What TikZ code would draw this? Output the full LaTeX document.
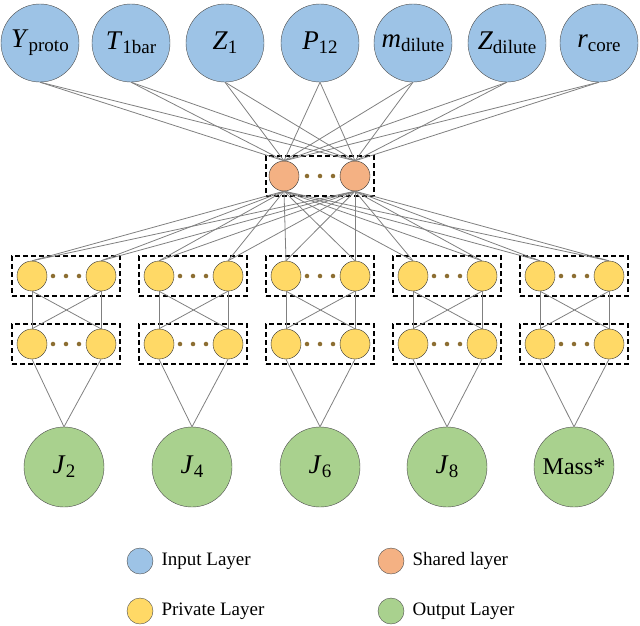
\documentclass[tikz,border=0pt]{standalone}
\usepackage{fontspec}
\setmainfont{Liberation Serif}
\begin{document}
\begin{tikzpicture}[x=1pt,y=-1pt,
  inp/.style={circle,draw=black!70,fill={rgb,255:red,157;green,195;blue,230},minimum size=78pt,inner sep=0pt,font=\fontsize{27}{28}\selectfont},
  outp/.style={circle,draw=black!70,fill={rgb,255:red,169;green,209;blue,142},minimum size=80pt,inner sep=0pt,font=\fontsize{27}{28}\selectfont},
  sh/.style={circle,draw=black!80,fill={rgb,255:red,244;green,177;blue,131},minimum size=30pt,inner sep=0pt},
  pr/.style={circle,draw=black!80,fill={rgb,255:red,255;green,217;blue,102},minimum size=30pt,inner sep=0pt},
  lg/.style={circle,draw=black!70,minimum size=26pt,inner sep=0pt},
  box/.style={draw,dashed,line width=1.3pt,dash pattern=on 5pt off 3pt},
  con/.style={draw=black!50,line width=0.8pt},
  dots/.style={fill={rgb,255:red,140;green,110;blue,50},circle,inner sep=1.6pt},
  lt/.style={font=\fontsize{19}{21}\selectfont,anchor=west}]
\useasboundingbox (0,0) rectangle (640,625);
\newcommand{\sbs}[1]{\raisebox{-0.3ex}{\fontsize{19}{20}\selectfont #1}}
% inputs
\node[inp] (i1) at (40,43) {\textit{Y}\sbs{proto}};
\node[inp] (i2) at (131,43) {\textit{T}\sbs{1bar}};
\node[inp] (i3) at (225,43) {\textit{Z}\sbs{1}};
\node[inp] (i4) at (320,43) {\textit{P}\sbs{12}};
\node[inp] (i5) at (413,43) {\textit{m}\sbs{dilute}};
\node[inp] (i6) at (507,43) {\textit{Z}\sbs{dilute}};
\node[inp] (i7) at (599,43) {\textit{r}\sbs{core}};
% shared
\node[sh] (s1) at (284,176) {};
\node[sh] (s2) at (355,176) {};
\node[box,draw,minimum width=108pt,minimum height=40pt] (sb) at (320,176) {};
\foreach \d in {307,320,333}{\node[dots] at (\d,176) {};}
\foreach \i in {1,...,7}{\foreach \s in {s1,s2}{\draw[con] (i\i.south) -- (\s.north);}}
% private
\foreach \b/\cx in {1/66,2/193,3/320,4/447,5/574}{
  \node[pr] (a\b) at (\cx-34,276) {};
  \node[pr] (b\b) at (\cx+35,276) {};
  \node[pr] (c\b) at (\cx-34,344) {};
  \node[pr] (d\b) at (\cx+35,344) {};
  \node[box,minimum width=108pt,minimum height=40pt] (pb\b) at (\cx,276) {};
  \node[box,minimum width=108pt,minimum height=40pt] (qb\b) at (\cx,344) {};
  \foreach \d in {-13,0,13}{\node[dots] at (\cx+\d,276) {};\node[dots] at (\cx+\d,344) {};}
  \draw[con] (a\b.south) -- (c\b.north); \draw[con] (b\b.south) -- (d\b.north);
  \draw[con] (a\b.south) -- (d\b.north); \draw[con] (b\b.south) -- (c\b.north);
  \foreach \s in {s1,s2}{\draw[con] (\s.south) -- (a\b.north); \draw[con] (\s.south) -- (b\b.north);}
}
% outputs
\node[outp] (o1) at (64,467) {\textit{J}\sbs{2}};
\node[outp] (o2) at (192,467) {\textit{J}\sbs{4}};
\node[outp] (o3) at (320,467) {\textit{J}\sbs{6}};
\node[outp] (o4) at (447,467) {\textit{J}\sbs{8}};
\node[outp] (o5) at (574,467) {\fontsize{24}{26}\selectfont Mass*};
\foreach \b in {1,...,5}{\draw[con] (c\b.south) -- (o\b.north); \draw[con] (d\b.south) -- (o\b.north);}
% legend
\node[lg,fill={rgb,255:red,157;green,195;blue,230}] (l1) at (140,561) {};
\node[lt] (t1) at (158,561) {Input Layer};
\node[lg,fill={rgb,255:red,244;green,177;blue,131}] (l2) at (391,561) {};
\node[lt] (t2) at (409,561) {Shared layer};
\node[lg,fill={rgb,255:red,255;green,217;blue,102}] (l3) at (140,611) {};
\node[lt] (t3) at (158,611) {Private Layer};
\node[lg,fill={rgb,255:red,169;green,209;blue,142}] (l4) at (391,611) {};
\node[lt] (t4) at (409,611) {Output Layer};
\end{tikzpicture}
\end{document}
